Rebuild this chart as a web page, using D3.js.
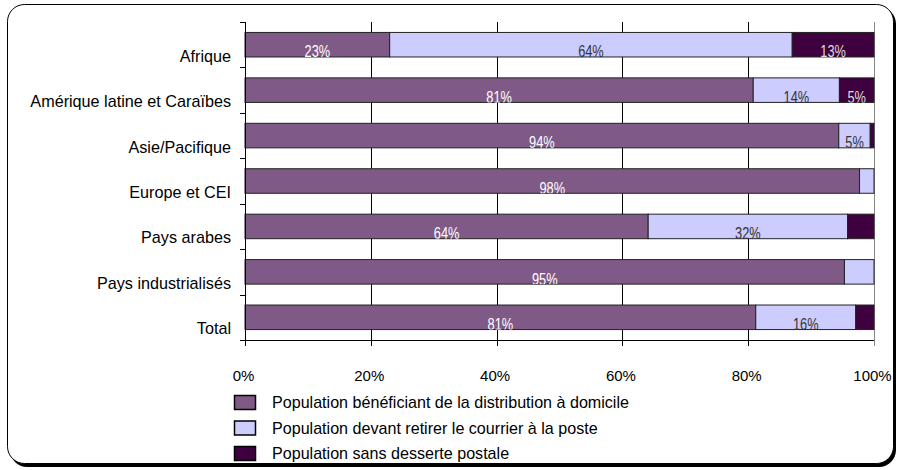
<!DOCTYPE html>
<html>
<head>
<meta charset="utf-8">
<title>Desserte postale</title>
<script src="https://d3js.org/d3.v7.min.js"></script>
<style>
body { margin: 0; background: #fff; }
svg { font-family: Arial, "Liberation Sans", sans-serif; }
</style>
</head>
<body>
<svg id="chart" width="898" height="470"></svg>
<script>
// data (percent of population)
var categories = ["Afrique", "Amérique latine et Caraïbes", "Asie/Pacifique ", "Europe et CEI",
  "Pays arabes", "Pays industrialisés", "Total"];
var domicile = [23, 80.8, 94.4, 97.7, 64.1, 95.3, 81.2];
var poste    = [64, 13.7, 5.0, 2.3, 31.7, 4.7, 15.9];
var sans     = [13, 5.5, 0.6, 0, 4.2, 0, 2.9];
var domicileLabels = ["23%", "81%", "94%", "98%", "64%", "95%", "81%"];
var posteLabels    = ["64%", "14%", "5%", "", "32%", "", "16%"];
var sansLabels     = ["13%", "5%", "", "", "", "", ""];
var seriesNames = ["Population bénéficiant de la distribution à domicile",
  "Population devant retirer le courrier à la poste",
  "Population sans desserte postale"];
var xTicks = [0, 20, 40, 60, 80, 100];

var colors = ["#7f5a87", "#ccccff", "#3f003f"];
var labelColors = ["#ffffff", "#333333", "#dddddd"];

var svg = d3.select("#chart");

// frame with shadow
svg.append("rect").attr("x", 10).attr("y", 7).attr("width", 886).attr("height", 460)
  .attr("rx", 17).attr("fill", "#000");
svg.append("rect").attr("x", 7.5).attr("y", 4.5).attr("width", 886).attr("height", 459)
  .attr("rx", 17).attr("fill", "#fff").attr("stroke", "#000").attr("stroke-width", 1);

var pLeft = 245, pRight = 874, pTop = 22, pBottom = 340;

var x = d3.scaleLinear().domain([0, 100]).range([pLeft, pRight]);
var y = d3.scaleBand().domain(categories).range([pTop, pBottom])
  .paddingInner(0.46).paddingOuter(0.23);

var rows = categories.map(function(c, i) {
  var vals = [domicile[i], poste[i], sans[i]];
  var labs = [domicileLabels[i], posteLabels[i], sansLabels[i]];
  var acc = 0;
  return vals.map(function(v, k) {
    var seg = {cat: c, k: k, x0: acc, x1: acc + v, label: labs[k]};
    acc += v;
    return seg;
  });
});

// gridlines
svg.append("g").selectAll("line").data([20, 40, 60, 80]).enter().append("line")
  .attr("x1", function(d) { return Math.round(x(d)) + 0.5; })
  .attr("x2", function(d) { return Math.round(x(d)) + 0.5; })
  .attr("y1", pTop).attr("y2", pBottom + 6)
  .attr("stroke", "#000").attr("stroke-width", 1);
svg.append("line").attr("x1", x(100) + 0.5).attr("x2", x(100) + 0.5)
  .attr("y1", pTop).attr("y2", pBottom + 6).attr("stroke", "#888");

// clip paths so the labels are cut at the bar edge, as in the picture
var defs = svg.append("defs");
categories.forEach(function(c, i) {
  defs.append("clipPath").attr("id", "clip" + i).append("rect")
    .attr("x", x(0)).attr("y", y(c)).attr("width", x(100) - x(0)).attr("height", y.bandwidth());
});

var bars = svg.append("g").selectAll("g").data(rows).enter().append("g");

bars.selectAll("rect").data(function(d) { return d.filter(function(s) { return s.x1 > s.x0; }); })
  .enter().append("rect")
  .attr("x", function(d) { return x(d.x0); })
  .attr("y", function(d) { return y(d.cat); })
  .attr("width", function(d) { return x(d.x1) - x(d.x0); })
  .attr("height", y.bandwidth())
  .attr("fill", function(d) { return colors[d.k]; })
  .attr("stroke", "#222").attr("stroke-width", 1);

// narrow labels: regular font squeezed horizontally
bars.append("g").attr("clip-path", function(d, i) { return "url(#clip" + i + ")"; })
  .selectAll("text").data(function(d) { return d.filter(function(s) { return s.label; }); })
  .enter().append("text")
  .attr("transform", function(d) {
    return "translate(" + x((d.x0 + d.x1) / 2) + "," + (y(d.cat) + y.bandwidth() + 0.5) + ") scale(0.8,1)";
  })
  .attr("text-anchor", "middle")
  .attr("font-size", 16)
  .attr("fill", function(d) { return labelColors[d.k]; })
  .text(function(d) { return d.label; });

// y axis
var yAxis = svg.append("g");
yAxis.append("line").attr("x1", pLeft + 0.5).attr("x2", pLeft + 0.5)
  .attr("y1", pTop).attr("y2", pBottom + 6).attr("stroke", "#000");
var edges = categories.map(function(c) { return y(c) - y.step() * y.paddingInner() / 2; });
edges.push(pBottom);
yAxis.selectAll("line.tick").data(edges).enter().append("line").attr("class", "tick")
  .attr("x1", pLeft - 5).attr("x2", pLeft)
  .attr("y1", function(d) { return Math.round(d) + 0.5; })
  .attr("y2", function(d) { return Math.round(d) + 0.5; })
  .attr("stroke", "#000");
yAxis.selectAll("text").data(categories).enter().append("text")
  .attr("x", 231)
  .attr("y", function(d) { return y(d) + y.bandwidth() / 2 + 17; })
  .attr("text-anchor", "end").attr("font-size", 16.2).attr("fill", "#000")
  .text(function(d) { return d; });

// x axis
var xAxis = svg.append("g");
xAxis.append("line").attr("x1", pLeft - 5).attr("x2", pRight)
  .attr("y1", pBottom + 0.5).attr("y2", pBottom + 0.5).attr("stroke", "#000");
xAxis.selectAll("text").data(xTicks).enter().append("text")
  .attr("x", function(d) { return x(d) - 1.5; })
  .attr("y", 381)
  .attr("text-anchor", "middle").attr("font-size", 15).attr("fill", "#000")
  .text(function(d) { return d + "%"; });

// legend
var legend = svg.append("g").selectAll("g").data(seriesNames).enter().append("g")
  .attr("transform", function(d, i) { return "translate(234," + (395 + i * 25.5) + ")"; });
legend.append("rect").attr("x", 0.5).attr("y", 0.5).attr("width", 21).attr("height", 14)
  .attr("fill", function(d, i) { return colors[i]; })
  .attr("stroke", "#000").attr("stroke-width", 1.5);
legend.append("text").attr("x", 38).attr("y", 13).attr("font-size", 16.1).attr("fill", "#000")
  .text(function(d) { return d; });
</script>
</body>
</html>
